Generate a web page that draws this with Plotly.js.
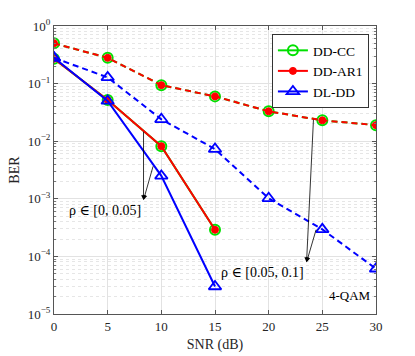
<!DOCTYPE html>
<html>
<head>
<meta charset="UTF-8">
<script src="https://cdn.plot.ly/plotly-3.0.1.min.js"></script>
<style>
  body { margin: 0; background: #fff; }
  #chart { width: 415px; height: 356px; }
</style>
</head>
<body>
<div id="chart"></div>
<script>
// SNR points
const snrLow = [0, 5, 10, 15];
const snrHigh = [0, 5, 10, 15, 20, 25, 30];

// rho in [0, 0.05]  (solid)
const ddccLow  = [0.27, 0.052, 0.0082, 2.9e-4];
const ddar1Low = [0.27, 0.052, 0.0082, 2.9e-4];
const dlddLow  = [0.28, 0.050, 0.0025, 3.0e-5];

// rho in [0.05, 0.1]  (dashed)
const ddccHigh  = [0.50, 0.28, 0.094, 0.060, 0.033, 0.023, 0.019];
const ddar1High = [0.50, 0.28, 0.094, 0.060, 0.033, 0.023, 0.019];
const dlddHigh  = [0.28, 0.128, 0.024, 0.0073, 0.00102, 2.95e-4, 6.1e-5];

const yTickVals = [1, 0.1, 0.01, 0.001, 1e-4, 1e-5];
const yTickText = ['10<sup>0</sup>', '10<sup>\u22121</sup>', '10<sup>\u22122</sup>',
                   '10<sup>\u22123</sup>', '10<sup>\u22124</sup>', '10<sup>\u22125</sup>'];

const serif = "'Liberation Serif', 'DejaVu Serif', serif";

function series(name, x, y, color, dash, marker, show) {
    return {
        x: x, y: y, name: name, type: 'scatter', mode: 'lines+markers',
        showlegend: show, legendgroup: name,
        line: { color: color, width: 2, dash: dash },
        marker: marker
    };
}

const ccMarker = { symbol: 'circle-open', size: 10, color: '#00e000', line: { color: '#00e000', width: 2 } };
const arMarker = { symbol: 'circle', size: 7, color: '#ff0000', line: { color: '#ff0000', width: 1 } };
const dlMarker = { symbol: 'triangle-up-open', size: 11, color: '#0000ff', line: { color: '#0000ff', width: 1.8 } };

const dashed = '6px,4px';

const data = [
    series('DD-CC', snrLow, ddccLow, '#00e000', 'solid', ccMarker, true),
    series('DD-CC', snrHigh, ddccHigh, '#00e000', dashed, ccMarker, false),
    series('DD-AR1', snrLow, ddar1Low, '#ff0000', 'solid', arMarker, true),
    series('DD-AR1', snrHigh, ddar1High, '#ff0000', dashed, arMarker, false),
    series('DL-DD', snrLow, dlddLow, '#0000ff', 'solid', dlMarker, true),
    series('DL-DD', snrHigh, dlddHigh, '#0000ff', dashed, dlMarker, false)
];

function arrow(hx, hy, tx, ty) {
    return {
        x: hx, y: hy, ax: tx, ay: ty, xref: 'x', yref: 'y', axref: 'x', ayref: 'y',
        text: '', showarrow: true, arrowhead: 2, arrowsize: 1.2, arrowwidth: 0.8, arrowcolor: '#000'
    };
}

const layout = {
    width: 415, height: 356,
    margin: { l: 54, r: 39, t: 26, b: 42 },
    paper_bgcolor: '#fff', plot_bgcolor: '#fff',
    font: { family: serif, size: 13, color: '#262626' },
    showlegend: true,
    legend: {
        x: 0.978, y: 0.972, xanchor: 'right', yanchor: 'top',
        bgcolor: '#fff', bordercolor: '#333', borderwidth: 1,
        font: { family: serif, size: 13.5, color: '#000' },
        tracegroupgap: 0, itemwidth: 30
    },
    xaxis: {
        range: [0, 30], tickvals: [0, 5, 10, 15, 20, 25, 30],
        ticks: 'inside', ticklen: 4, tickcolor: '#555',
        showline: true, mirror: 'ticks', linecolor: '#555', linewidth: 1,
        showgrid: true, gridcolor: '#e2e2e2', zeroline: false,
        tickfont: { family: serif, size: 13, color: '#262626' },
        title: { text: 'SNR (dB)', font: { family: serif, size: 14, color: '#262626' }, standoff: 6 }
    },
    yaxis: {
        type: 'log', range: [-5, 0],
        tickvals: yTickVals, ticktext: yTickText,
        ticks: 'inside', ticklen: 4, tickcolor: '#555',
        showline: true, mirror: 'ticks', linecolor: '#555', linewidth: 1,
        showgrid: true, gridcolor: '#e2e2e2', zeroline: false,
        tickfont: { family: serif, size: 13, color: '#262626' },
        minor: { dtick: 'D1', showgrid: true, gridcolor: '#e6e6e6', griddash: 'dot', ticks: 'inside', ticklen: 2, tickcolor: '#777' },
        title: { text: 'BER', font: { family: serif, size: 14, color: '#262626' }, standoff: 4 }
    },
    annotations: [
        arrow(8.34, -3.02, 8.34, -1.81),
        arrow(8.34, -3.02, 9.27, -2.41),
        arrow(23.53, -4.10, 24.18, -1.60),
        arrow(23.53, -4.10, 24.46, -3.51),
        { x: 8.3, y: -3.2, xref: 'x', yref: 'y', xanchor: 'right', yanchor: 'middle', showarrow: false,
          text: '\u03c1 \u2208 [0, 0.05]', font: { family: serif, size: 14, color: '#000' } },
        { x: 23.5, y: -4.28, xref: 'x', yref: 'y', xanchor: 'right', yanchor: 'middle', showarrow: false,
          text: '\u03c1 \u2208 [0.05, 0.1]', font: { family: serif, size: 14, color: '#000' } },
        { x: 0.99, y: 0.03, xref: 'paper', yref: 'paper', xanchor: 'right', yanchor: 'bottom', showarrow: false,
          text: '4-QAM', font: { family: serif, size: 13, color: '#000' } }
    ]
};

Plotly.newPlot('chart', data, layout, { staticPlot: true });
</script>
</body>
</html>
